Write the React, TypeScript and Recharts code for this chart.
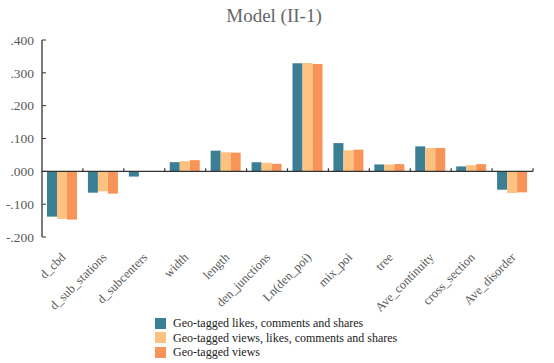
import { BarChart, Bar, XAxis, YAxis, ReferenceLine, Legend } from 'recharts';

const categories = [
    'd_cbd', 'd_sub_stations', 'd_subcenters', 'width', 'length', 'den_junctions',
    'Ln(den_poi)', 'mix_poi', 'tree', 'Ave_continuity', 'cross_section', 'Ave_disorder',
];

const likesCommentsShares = [-0.138, -0.065, -0.016, 0.028, 0.063, 0.028, 0.329, 0.086, 0.021, 0.076, 0.015, -0.056];
const viewsLikesCommentsShares = [-0.145, -0.061, 0, 0.031, 0.058, 0.026, 0.330, 0.064, 0.021, 0.071, 0.019, -0.066];
const views = [-0.147, -0.068, 0, 0.034, 0.057, 0.023, 0.327, 0.066, 0.022, 0.071, 0.022, -0.064];

const yTicks = [-0.2, -0.1, 0, 0.1, 0.2, 0.3, 0.4];

const SERIES = [
    { key: 'a', name: 'Geo-tagged likes, comments and shares', color: '#3b7f95' },
    { key: 'b', name: 'Geo-tagged views, likes, comments and shares', color: '#fdc27f' },
    { key: 'c', name: 'Geo-tagged views', color: '#f89457' },
];

const data = categories.map((name, i) => ({
    name,
    a: likesCommentsShares[i],
    b: viewsLikesCommentsShares[i],
    c: views[i],
}));

const FONT = 'Liberation Serif';

const formatY = (v: number) => {
    const s = Math.abs(v).toFixed(3).replace(/^0/, '');
    return v < 0 ? `-${s}` : s;
};

const XTick = ({ x, y, payload }: any) => (
    <text
        x={x + 4}
        y={y + 13}
        transform={`rotate(-45, ${x + 4}, ${y + 13})`}
        textAnchor="end"
        fill="#595959"
        fontSize={12.5}
        fontFamily={FONT}
    >
        {payload.value}
    </text>
);

// zero line with small marks at category boundaries
const ZeroAxis = ({ x1, x2, y1 }: any) => {
    const n = categories.length;
    const step = (x2 - x1) / n;
    return (
        <g>
            <line x1={x1} x2={x2} y1={y1} y2={y1} stroke="#333" strokeWidth={1.3} />
            {categories.map((_, i) => (
                <line
                    key={i}
                    x1={x1 + step * (i + 1)}
                    x2={x1 + step * (i + 1)}
                    y1={y1 - 3}
                    y2={y1}
                    stroke="#333"
                    strokeWidth={1.2}
                />
            ))}
        </g>
    );
};

const LegendContent = () => (
    <div style={{ fontFamily: FONT, fontSize: 12, color: '#222', lineHeight: '14.5px' }}>
        {SERIES.map((s) => (
            <div key={s.key} style={{ display: 'flex', alignItems: 'center' }}>
                <span style={{ width: 11, height: 11, background: s.color, display: 'inline-block', marginRight: 7 }} />
                <span>{s.name}</span>
            </div>
        ))}
    </div>
);

export default function App() {
    return (
        <div style={{ position: 'absolute', left: 0, top: 0, width: 554, height: 363, background: '#fff' }}>
            <div
                style={{
                    position: 'absolute',
                    top: 5,
                    left: 0,
                    width: 548,
                    textAlign: 'center',
                    fontFamily: FONT,
                    fontSize: 19,
                    color: '#666',
                }}
            >
                Model (II-1)
            </div>
            <BarChart
                width={554}
                height={363}
                data={data}
                margin={{ top: 40, right: 21, left: 0, bottom: 0 }}
                barCategoryGap={5}
                barGap={0}
            >
                <XAxis
                    dataKey="name"
                    axisLine={false}
                    tickLine={false}
                    height={126}
                    interval={0}
                    tick={<XTick />}
                />
                <YAxis
                    width={42}
                    domain={[-0.2, 0.4]}
                    ticks={yTicks}
                    tickFormatter={formatY}
                    axisLine={{ stroke: '#333', strokeWidth: 1.3 }}
                    tickLine={{ stroke: '#333' }}
                    tickSize={-4}
                    tickMargin={12}
                    tick={{ fill: '#595959', fontSize: 13.5, fontFamily: FONT }}
                    allowDataOverflow
                />
                <ReferenceLine y={0} shape={<ZeroAxis />} />
                {SERIES.map((s) => (
                    <Bar key={s.key} dataKey={s.key} name={s.name} fill={s.color} isAnimationActive={false} />
                ))}
                <Legend
                    layout="vertical"
                    align="center"
                    verticalAlign="middle"
                    content={<LegendContent />}
                    wrapperStyle={{ top: 316, left: 155, width: 320 }}
                />
            </BarChart>
        </div>
    );
}
